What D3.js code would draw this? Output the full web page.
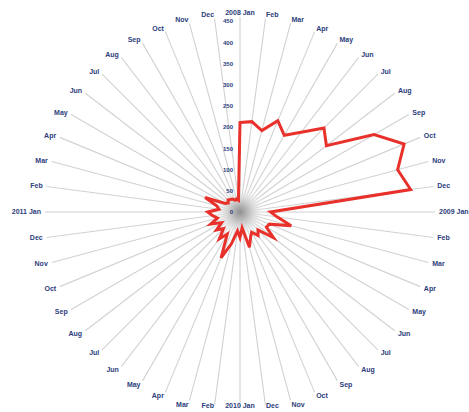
<!DOCTYPE html>
<html><head><meta charset="utf-8">
<script src="https://cdn.jsdelivr.net/npm/d3@7"></script>
<style>body{margin:0;background:#fff}svg{display:block}</style>
</head><body>
<svg id="c" width="469" height="412"></svg>
<script>
const months = ["Jan","Feb","Mar","Apr","May","Jun","Jul","Aug","Sep","Oct","Nov","Dec"];
const years = [2008, 2009, 2010, 2011];
const values2008 = [211, 215, 199, 233, 209, 237, 280, 257, 365, 419, 385, 406];
const values2009 = [72, 88, 125, 75, 72, 100, 60, 70, 55, 65, 86, 38];
const values2010 = [60, 45, 77, 117, 60, 80, 55, 70, 50, 75, 55, 65];
const values2011 = [76, 50, 57, 89, 40, 35, 40, 37, 35, 30, 32, 28];
const radialTicks = [0, 50, 100, 150, 200, 250, 300, 350, 400, 450];

const values = [...values2008, ...values2009, ...values2010, ...values2011];
const labels = [];
years.forEach(y => months.forEach((m, i) => labels.push(i === 0 ? y + " Jan" : m)));

const svg = d3.select("#c");
const W = 469, H = 412;
const cx = 240, cy = 212;
const g = svg.append("g").attr("transform", `translate(${cx},${cy})`);

const angle = d3.scaleLinear().domain([0, values.length]).range([0, 2 * Math.PI]);
const r = d3.scaleLinear().domain([0, 460]).range([0, 195]);

// centre glow
const defs = svg.append("defs");
const grad = defs.append("radialGradient").attr("id", "glow");
grad.append("stop").attr("offset", "0%").attr("stop-color", "#909090");
grad.append("stop").attr("offset", "40%").attr("stop-color", "#c8c8c8");
grad.append("stop").attr("offset", "100%").attr("stop-color", "#ffffff").attr("stop-opacity", 0);

// spokes
g.selectAll("line.spoke").data(labels).join("line")
  .attr("class", "spoke")
  .attr("x1", 0).attr("y1", 0)
  .attr("x2", (d, i) => Math.sin(angle(i)) * r(460))
  .attr("y2", (d, i) => -Math.cos(angle(i)) * r(460))
  .attr("stroke", "#d2d2d2").attr("stroke-width", 1.1);

g.append("circle").attr("r", 26).attr("fill", "url(#glow)");

// spoke labels
const lr = 199;
g.selectAll("text.lab").data(labels).join("text")
  .attr("class", "lab")
  .attr("x", (d, i) => Math.sin(angle(i)) * lr)
  .attr("y", (d, i) => Math.min(-Math.cos(angle(i)) * lr, H - cy - 6))
  .attr("dy", "0.35em")
  .attr("text-anchor", (d, i) => {
    const s = Math.sin(angle(i));
    return s > 0.05 ? "start" : s < -0.05 ? "end" : "middle";
  })
  .attr("font-family", "Liberation Sans, Arial, sans-serif")
  .attr("font-size", 7)
  .attr("font-weight", "bold")
  .attr("fill", "#2c3d7c")
  .text(d => d);

// radial axis labels
g.selectAll("text.rt").data(radialTicks).join("text")
  .attr("class", "rt")
  .attr("x", -7)
  .attr("y", d => -r(d))
  .attr("dy", "0.35em")
  .attr("text-anchor", "end")
  .attr("font-family", "Liberation Sans, Arial, sans-serif")
  .attr("font-size", 6)
  .attr("font-weight", "bold")
  .attr("fill", "#2c3d7c")
  .text(d => d);

// data line
const line = d3.lineRadial()
  .angle((d, i) => angle(i))
  .radius(d => r(d))
  .curve(d3.curveLinearClosed);
g.append("path").datum(values)
  .attr("d", line)
  .attr("fill", "none")
  .attr("stroke", "#e8312a")
  .attr("stroke-width", 3)
  .attr("stroke-linejoin", "miter");
</script>
</body></html>
